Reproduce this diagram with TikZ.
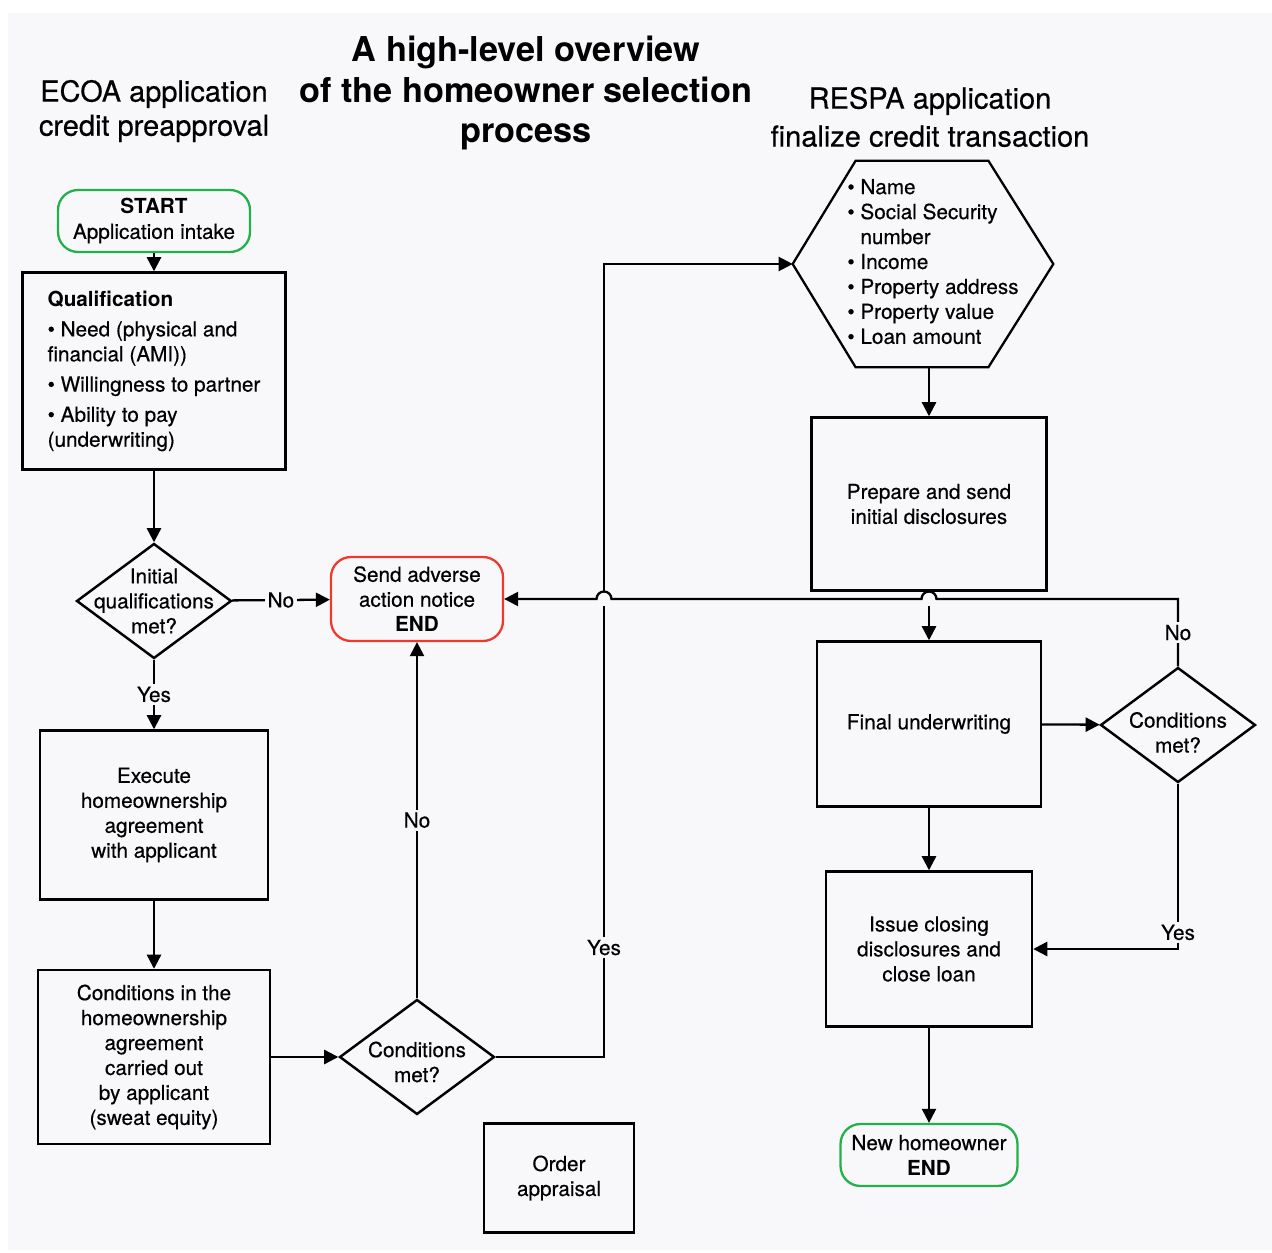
\documentclass[tikz,border=0pt]{standalone}
\usepackage{fontspec}
\setmainfont{TeX Gyre Heros}[UprightFeatures={FakeBold=0.4}]
\usetikzlibrary{arrows.meta,shapes.geometric,calc}
\definecolor{panel}{HTML}{F8F8FA}
\definecolor{startgreen}{HTML}{22B04B}
\definecolor{endred}{HTML}{EE3A2E}

\begin{document}
\begin{tikzpicture}[x=0.02cm, y=-0.02cm,
    every node/.style={font=\fontsize{11.8}{14.2}\selectfont, align=center},
    box/.style={rectangle, draw, line width=1.4pt},
    terminal/.style={rectangle, draw, line width=1.3pt, rounded corners=0.4cm},
    decision/.style={diamond, draw, line width=1.4pt, minimum width=3.1cm, minimum height=2.3cm, inner sep=0pt},
    heading/.style={font=\fontsize{16.5}{19.4}\selectfont},
    lbl/.style={fill=panel, inner sep=1.5pt},
    arrow/.style={-{Triangle[length=8pt,width=8pt]}, line width=1.3pt},
    line/.style={line width=1.3pt}
]
    % Background
    \useasboundingbox (0,0) rectangle (1272,1253);
    \fill[white] (0,0) rectangle (1272,1253);
    \fill[panel] (8,13) rectangle (1272,1250);

    % Headings
    \node[font=\fontsize{19.5}{22.8}\selectfont\bfseries] (title) at (526,93) {A high-level overview\\of the homeowner selection\\process};
    \node[heading] (ecoa) at (154,111) {ECOA application\\credit preapproval};
    \node[heading, font=\fontsize{16.5}{21.6}\selectfont] (respa) at (930,117) {RESPA application\\finalize credit transaction};

    % ECOA side
    \node[terminal, draw=startgreen, minimum width=3.84cm, minimum height=1.24cm] (start) at (154,221) {\textbf{START}\\Application intake};
    \node[box, minimum width=5.26cm, minimum height=3.94cm, align=left] (qual) at (154,371) {\textbf{Qualification}\\[3pt]
        \textbullet\ Need (physical and\\
        financial (AMI))\\[3pt]
        \textbullet\ Willingness to partner\\[3pt]
        \textbullet\ Ability to pay\\
        (underwriting)};
    \node[decision, label={center:Initial\\qualifications\\met?}] (initial) at (154,601) {};
    \node[terminal, draw=endred, minimum width=3.44cm, minimum height=1.68cm] (adverse) at (417,599) {Send adverse\\action notice\\\textbf{END}};
    \node[box, minimum width=4.56cm, minimum height=3.38cm] (execute) at (154,815) {Execute\\homeownership\\agreement\\with applicant};
    \node[box, minimum width=4.64cm, minimum height=3.48cm] (sweat) at (154,1057) {Conditions in the\\homeownership\\agreement\\carried out\\by applicant\\(sweat equity)};
    \node[decision, label={[yshift=-0.1cm]center:Conditions\\met?}] (check) at (417,1057) {};
    \node[box, minimum width=3.0cm, minimum height=2.18cm] (appraisal) at (559,1178) {Order\\appraisal};

    % RESPA side
    \node[minimum width=5.2cm, minimum height=4.12cm, inner sep=0pt] (info) at (923,264) {\hspace*{0.4cm}\begin{tabular}{@{}l@{}}
        \textbullet\ Name\\
        \textbullet\ Social Security\\
        \hphantom{\textbullet\ }number\\
        \textbullet\ Income\\
        \textbullet\ Property address\\
        \textbullet\ Property value\\
        \textbullet\ Loan amount
        \end{tabular}};
    \draw[line] (info.west) -- ([xshift=1.26cm]info.north west) -- ([xshift=-1.3cm]info.north east) -- (info.east)
        -- ([xshift=-1.3cm]info.south east) -- ([xshift=1.26cm]info.south west) -- cycle;
    \node[box, minimum width=4.7cm, minimum height=3.46cm] (prepare) at (929,504) {Prepare and send\\initial disclosures};
    \node[box, minimum width=4.48cm, minimum height=3.3cm] (final) at (929,724) {Final underwriting};
    \node[decision, label={[yshift=-0.15cm]center:Conditions\\met?}] (closing) at (1178,725) {};
    \node[box, minimum width=4.12cm, minimum height=3.1cm] (issue) at (929,949) {Issue closing\\disclosures and\\close loan};
    \node[terminal, draw=startgreen, minimum width=3.54cm, minimum height=1.24cm] (newowner) at (929,1155) {New homeowner\\\textbf{END}};

    \coordinate (turn) at (604,264);

    % Arrows
    \draw[arrow] (start) -- (qual);
    \draw[arrow] (qual) -- (initial);
    \draw[arrow] (initial) -- node[lbl]{No} (adverse);
    \draw[arrow] (initial) -- node[lbl]{Yes} (execute);
    \draw[arrow] (execute) -- (sweat);
    \draw[arrow] (sweat) -- (check);
    \draw[arrow] (check) -- node[lbl]{No} (adverse);
    \draw[arrow] (check.east) -| node[lbl, pos=0.569]{Yes} (turn) -- (info.west);
    \draw[arrow] (info.south -| prepare.north) -- (prepare.north);
    \draw[arrow] (prepare) -- (final);
    \draw[arrow] (final) -- (closing);
    \draw[arrow] (final) -- (issue);
    \draw[arrow] (issue) -- (newowner);
    \draw[arrow] (closing.south) |- node[lbl, pos=0.45]{Yes} (issue.east);

    % Line hops
    \fill[panel] (turn |- adverse.east) circle[radius=0.14cm];
    \fill[panel] (final.north |- adverse.east) circle[radius=0.14cm];
    \draw[arrow] (closing.north) -- node[lbl]{No} (closing.north |- adverse.east)
        -- ($(final.north |- adverse.east)+(0.15cm,0)$) arc[start angle=0, end angle=180, radius=0.15cm]
        -- ($(turn |- adverse.east)+(0.15cm,0)$) arc[start angle=0, end angle=180, radius=0.15cm]
        -- (adverse.east);
\end{tikzpicture}
\end{document}
